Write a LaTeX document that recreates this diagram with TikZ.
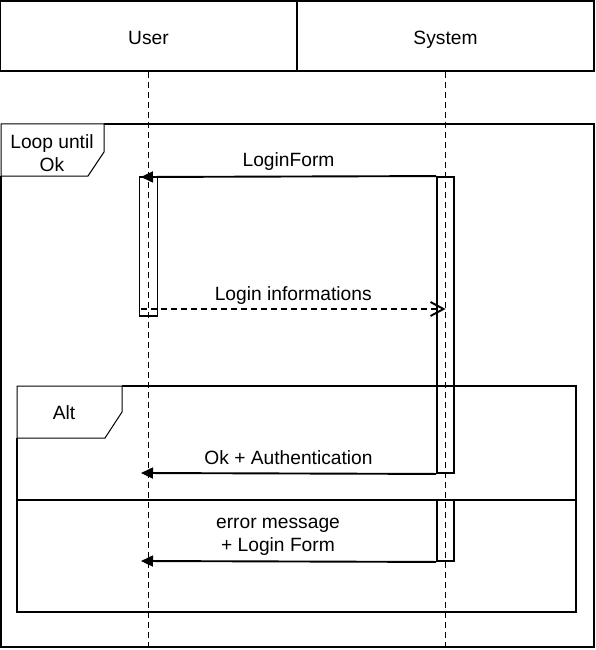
\documentclass[tikz,border=0pt]{standalone}
\usepackage{fontspec}
\setmainfont{Liberation Sans}
\usetikzlibrary{arrows.meta}
\begin{document}
\begin{tikzpicture}[x=1pt,y=-1pt, line width=1.9pt,
  txt/.style={font=\fontsize{19.2}{23}\selectfont, inner sep=0pt},
  hdr/.style={txt, draw, minimum width=297pt, minimum height=70pt, text height=18pt, text depth=0pt},
  life/.style={dash pattern=on 6pt off 4pt},
  bar/.style={draw, inner sep=0pt},
  msg/.style={-{Triangle[length=12pt,width=11pt]}},
  reply/.style={dash pattern=on 6pt off 4pt, -{Straight Barb[length=13pt,width=14pt]}},
  tag/.style={line width=1pt},
  lbl/.style={txt, anchor=base, align=center}
]
\useasboundingbox (0,0) rectangle (596,650);
% headers
\node[hdr] (user) at (148.5,36) {User};
\node[hdr] (sys) at (445.5,36) {System};
% lifelines
\coordinate (uEnd) at (148.5,650);
\coordinate (sEnd) at (445.5,650);
\draw[life] (user.south) -- (uEnd);
\draw[life] (sys.south) -- (sEnd);
% loop frame
\draw (104,124) -- (594,124) -- (594,647) -- (1,647) -- (1,176);
\draw[tag] (1,124) -- (104,124) -- (104,152) -- (88,176) -- (1,176) -- cycle;
\node[txt, align=center] (loopl) at (52,153) {Loop until\\Ok};
% activation bars
\node[bar, minimum width=18pt, minimum height=139pt] (ubar) at (148.5,246.5) {};
\node[bar, minimum width=17pt, minimum height=296pt] (sbar1) at (445.5,325) {};
\node[bar, minimum width=17pt, minimum height=61pt] (sbar2) at (445.5,530.5) {};
% alt frame
\draw (122,386) -- (576,386) -- (576,612) -- (17,612) -- (17,438);
\draw[tag] (17,386) -- (122,386) -- (122,412) -- (105,438) -- (17,438) -- cycle;
\node[txt] (altl) at (64,413) {Alt};
\coordinate (sepL) at (17,500);
\coordinate (sepR) at (576,500);
\draw (sepL) -- (sepR);
% messages
\coordinate (lfEnd) at (141,177);
\draw[msg] (sbar1.north west) -- (lfEnd) node[lbl, pos=0.5, yshift=10pt] (lfl) {LoginForm};
\coordinate (liStart) at (141,309);
\coordinate (liEnd) at (445.5,309);
\draw[reply] (liStart) -- (liEnd) node[lbl, pos=0.5, yshift=9pt] (lil) {Login informations};
\coordinate (okEnd) at (141,473);
\draw[msg] (sbar1.south west) -- (okEnd) node[lbl, pos=0.5, yshift=9pt] (okl) {Ok + Authentication};
\coordinate (erEnd) at (141,561);
\draw[msg] (sbar2.south west) -- (erEnd);
\node[txt, align=center, anchor=base] (erl) at (278,551) {error message\\+ Login Form};
\end{tikzpicture}
\end{document}
